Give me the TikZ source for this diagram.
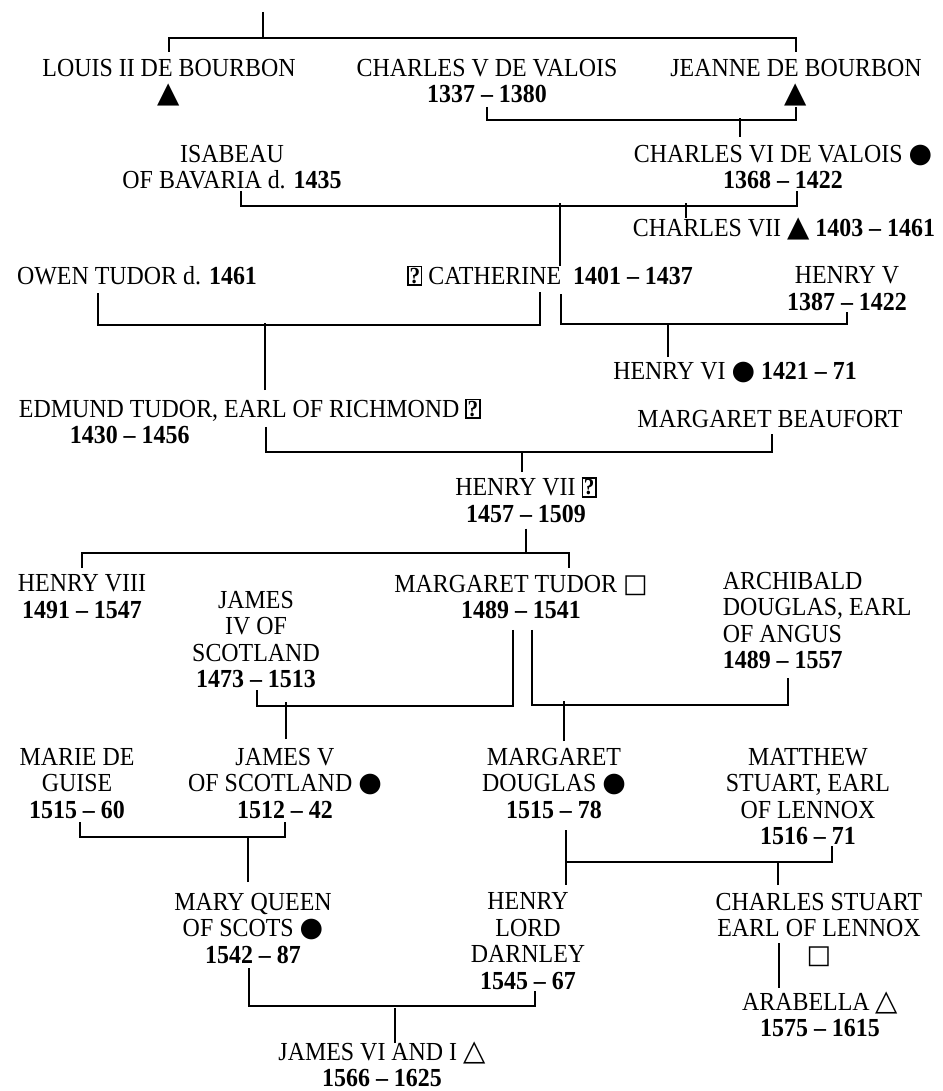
\documentclass[tikz,border=0pt]{standalone}
\usepackage{fontspec}
\setmainfont{Liberation Serif}[FakeStretch=0.92]
\newfontfamily\symfont{DejaVu Sans}
\usetikzlibrary{positioning}

\newcommand\yrs[1]{\textbf{#1}}
\newcommand\btri{\smash{\symfont\fontsize{29}{29}\selectfont ▲}}
\newcommand\wtri{\smash{\symfont\fontsize{29}{29}\selectfont △}}
\newcommand\bdot{\smash{\symfont\fontsize{27}{27}\selectfont ●}}
\newcommand\wbox{\smash{\symfont\fontsize{26}{26}\selectfont □}}
\newcommand\qbox{\smash{\raisebox{1pt}{\setlength\fboxsep{0.8pt}\setlength\fboxrule{1.5pt}\fbox{\fontsize{23}{23}\selectfont\bfseries ?}}}}

\begin{document}
\begin{tikzpicture}[x=1pt,y=-1pt,line width=1.8pt]
    \tikzstyle{person}=[anchor=north,inner sep=0pt,align=center,font=\fontsize{26}{26.5}\selectfont]
    \tikzstyle{lperson}=[person,anchor=north west,align=left]
    \useasboundingbox (0,0) rectangle (942,1091);

    % valois and bourbon
    \node[person] (louis) at (169,58) {LOUIS II DE BOURBON\\\btri};
    \node[person] (cv) at (487,58) {CHARLES V DE VALOIS\\\yrs{1337 – 1380}};
    \node[person] (jeanne) at (796,58) {JEANNE DE BOURBON\\\btri};
    \node[person] (isabeau) at (232,144) {ISABEAU\\OF BAVARIA d. \yrs{1435}};
    \node[person] (cvi) at (783,144) {CHARLES VI DE VALOIS \bdot\\\yrs{1368 – 1422}};
    \node[person] (cvii) at (784,218) {CHARLES VII \btri\ \yrs{1403 – 1461}};

    % tudor
    \node[person] (owen) at (137,266) {OWEN TUDOR d. \yrs{1461}};
    \node[person] (cath) at (550,266) {\qbox\ CATHERINE \ \yrs{1401 – 1437}};
    \node[person] (henryv) at (847,266) {HENRY V\\\yrs{1387 – 1422}};
    \node[person] (henryvi) at (735,361) {HENRY VI \bdot\ \yrs{1421 – 71}};
    \node[lperson] (edmund) at (18,399) {EDMUND TUDOR, EARL OF RICHMOND \qbox\\\hspace*{51pt}\yrs{1430 – 1456}};
    \node[person] (mbeaufort) at (770,409) {MARGARET BEAUFORT};
    \node[person] (henryvii) at (526,478) {HENRY VII \qbox\\\yrs{1457 – 1509}};

    % stuart
    \node[person] (henryviii) at (82,574) {HENRY VIII\\\yrs{1491 – 1547}};
    \node[person] (mtudor) at (521,574) {MARGARET TUDOR \wbox\\\yrs{1489 – 1541}};
    \node[person] (james4) at (256,590) {JAMES\\IV OF\\SCOTLAND\\\yrs{1473 – 1513}};
    \node[lperson] (archibald) at (722,571) {ARCHIBALD\\DOUGLAS, EARL\\OF ANGUS\\\yrs{1489 – 1557}};
    \node[person] (marie) at (77,747) {MARIE DE\\GUISE\\\yrs{1515 – 60}};
    \node[person] (james5) at (285,747) {JAMES V\\OF SCOTLAND \bdot\\\yrs{1512 – 42}};
    \node[person] (mdouglas) at (554,747) {MARGARET\\DOUGLAS \bdot\\\yrs{1515 – 78}};
    \node[person] (matthew) at (808,747) {MATTHEW\\STUART, EARL\\OF LENNOX\\\yrs{1516 – 71}};
    \node[person] (mary) at (253,892) {MARY QUEEN\\OF SCOTS \bdot\\\yrs{1542 – 87}};
    \node[person] (darnley) at (528,892) {HENRY\\LORD\\DARNLEY\\\yrs{1545 – 67}};
    \node[person] (cstuart) at (819,892) {CHARLES STUART\\EARL OF LENNOX\\\wbox};
    \node[person] (arabella) at (820,992) {ARABELLA \wtri\\\yrs{1575 – 1615}};
    \node[person] (james6) at (382,1042) {JAMES VI AND I \wtri\\\yrs{1566 – 1625}};

    % lines
    \coordinate (root) at (263,12);
    \draw (root) -- ++(0,26);
    \draw ([yshift=6pt]louis.north) -- ++(0,-14) -| ([yshift=6pt]jeanne.north);
    \draw ([yshift=-3pt]cv.south) -- ++(0,13) -| ([yshift=-3pt]jeanne.south);
    \draw ([xshift=-43pt,yshift=7pt]cvi.north) -- ++(0,-19);
    \draw ([xshift=9pt,yshift=-1pt]isabeau.south) -- ++(0,15) -| ([xshift=14pt,yshift=-1pt]cvi.south);
    \draw ([xshift=-98pt]cvii.north) -- ++(0,-15);
    \draw ([xshift=10pt]cath.north) -- ++(0,-63);

    \draw ([xshift=-39pt,yshift=-7pt]owen.south) -- ++(0,32) -| ([xshift=-10pt,yshift=-7pt]cath.south);
    \draw ([xshift=11pt,yshift=-9pt]cath.south) -- ++(0,30) -| (henryv.south);
    \draw ([xshift=-67pt,yshift=4pt]henryvi.north) -- ++(0,-34);
    \draw ([xshift=15pt,yshift=9pt]edmund.north) -- ++(0,-67);
    \draw ([xshift=16pt,yshift=18pt]edmund.south) -- ++(0,25) -| ([xshift=2pt,yshift=-6pt]mbeaufort.south);
    \draw ([xshift=-4pt,yshift=6pt]henryvii.north) -- ++(0,-21);

    \draw ([yshift=-5pt]henryvii.south) -- ++(0,25);
    \draw ([yshift=6pt]henryviii.north) -- ++(0,-15) -| ([xshift=48pt,yshift=6pt]mtudor.north);
    \draw ([xshift=-8pt,yshift=-10pt]mtudor.south) -- ++(0,76) -| ([xshift=1pt,yshift=-1pt]james4.south);
    \draw ([xshift=1pt,yshift=8pt]james5.north) -- ++(0,-37);
    \draw ([xshift=11pt,yshift=-10pt]mtudor.south) -- ++(0,75) -| ([xshift=66pt,yshift=-8pt]archibald.south west);
    \draw ([xshift=10pt,yshift=6pt]mdouglas.north) -- ++(0,-40);

    \draw ([xshift=3pt,yshift=-3pt]marie.south) -- ++(0,15) -| ([yshift=-3pt]james5.south);
    \draw ([xshift=-5pt,yshift=10pt]mary.north) -- ++(0,-45);
    \draw ([xshift=12pt,yshift=-11pt]mdouglas.south) -- ++(0,32) coordinate (dbar) -- ++(0,23);
    \draw (dbar) -| ([xshift=24pt]matthew.south);
    \draw ([xshift=-41pt,yshift=7pt]cstuart.north) -- ++(0,-23);
    \draw ([xshift=-40pt,yshift=21pt]cstuart.south) -- ([xshift=-41pt,yshift=4pt]arabella.north);
    \draw ([xshift=-4pt,yshift=-4pt]mary.south) -- ++(0,38) -| ([xshift=7pt]darnley.south);
    \draw ([xshift=13pt,yshift=-1pt]james6.north) -- ++(0,-35);
\end{tikzpicture}
\end{document}
